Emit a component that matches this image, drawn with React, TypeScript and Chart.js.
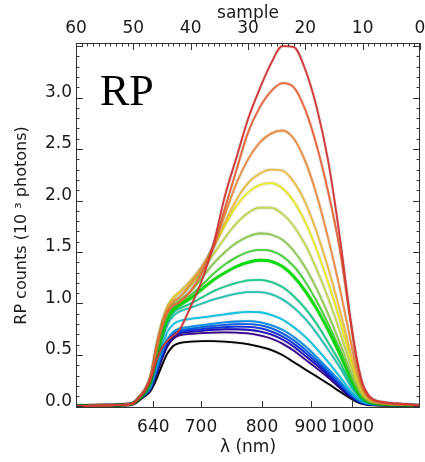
import React, { useEffect, useRef } from "react";
import { Chart, registerables } from "chart.js";

Chart.register(...registerables);

// sample index grid (top axis units)
const SAMPLES = [60, 55, 52, 50, 49, 48, 47, 46, 45, 44, 43, 42, 40, 38, 36, 34, 32, 30, 28, 26, 24, 22, 20, 18, 16, 14, 12, 11, 10, 9, 8, 6, 3, 0];

// spectra, from faintest (black) to brightest (red)
const C0 = [0.005, 0.01, 0.015, 0.025, 0.06, 0.10, 0.15, 0.26, 0.40, 0.52, 0.59, 0.615, 0.63, 0.635, 0.635, 0.63, 0.62, 0.605, 0.58, 0.55, 0.50, 0.43, 0.36, 0.29, 0.22, 0.145, 0.075, 0.045, 0.025, 0.016, 0.012, 0.01, 0.008, 0.005];
const C1 = [0.005, 0.01, 0.015, 0.027, 0.06, 0.105, 0.16, 0.30, 0.46, 0.59, 0.66, 0.69, 0.705, 0.713, 0.718, 0.72, 0.718, 0.71, 0.69, 0.66, 0.61, 0.54, 0.455, 0.37, 0.28, 0.18, 0.085, 0.05, 0.028, 0.018, 0.014, 0.011, 0.009, 0.006];
const C2 = [0.005, 0.01, 0.015, 0.027, 0.065, 0.11, 0.17, 0.32, 0.48, 0.61, 0.68, 0.71, 0.725, 0.735, 0.745, 0.75, 0.75, 0.745, 0.73, 0.70, 0.65, 0.58, 0.49, 0.40, 0.30, 0.195, 0.095, 0.055, 0.03, 0.02, 0.015, 0.012, 0.009, 0.006];
const C3 = [0.005, 0.01, 0.015, 0.028, 0.065, 0.11, 0.17, 0.33, 0.49, 0.62, 0.69, 0.72, 0.74, 0.752, 0.763, 0.77, 0.775, 0.772, 0.76, 0.73, 0.68, 0.61, 0.52, 0.425, 0.32, 0.21, 0.10, 0.06, 0.033, 0.021, 0.016, 0.012, 0.009, 0.006];
const C4 = [0.005, 0.01, 0.015, 0.028, 0.065, 0.115, 0.175, 0.34, 0.51, 0.64, 0.705, 0.735, 0.755, 0.77, 0.783, 0.793, 0.80, 0.80, 0.79, 0.76, 0.71, 0.64, 0.55, 0.45, 0.34, 0.225, 0.11, 0.065, 0.036, 0.022, 0.017, 0.013, 0.01, 0.006];
const C5 = [0.005, 0.01, 0.015, 0.028, 0.07, 0.115, 0.18, 0.35, 0.53, 0.66, 0.725, 0.755, 0.775, 0.79, 0.805, 0.817, 0.825, 0.828, 0.82, 0.79, 0.745, 0.675, 0.585, 0.48, 0.365, 0.245, 0.12, 0.072, 0.04, 0.024, 0.018, 0.013, 0.01, 0.006];
const C6 = [0.005, 0.01, 0.015, 0.028, 0.07, 0.12, 0.20, 0.39, 0.58, 0.73, 0.80, 0.83, 0.85, 0.865, 0.88, 0.895, 0.91, 0.918, 0.915, 0.89, 0.845, 0.77, 0.675, 0.56, 0.43, 0.29, 0.145, 0.088, 0.048, 0.028, 0.02, 0.014, 0.01, 0.006];
const C7 = [0.005, 0.01, 0.015, 0.03, 0.07, 0.125, 0.22, 0.43, 0.64, 0.80, 0.88, 0.92, 0.96, 1.0, 1.04, 1.07, 1.095, 1.11, 1.11, 1.09, 1.04, 0.96, 0.85, 0.71, 0.55, 0.38, 0.19, 0.115, 0.062, 0.035, 0.024, 0.016, 0.011, 0.007];
const C8 = [0.005, 0.01, 0.015, 0.03, 0.075, 0.13, 0.23, 0.45, 0.67, 0.83, 0.91, 0.95, 1.0, 1.06, 1.12, 1.165, 1.20, 1.225, 1.23, 1.21, 1.16, 1.07, 0.95, 0.80, 0.62, 0.43, 0.215, 0.13, 0.07, 0.039, 0.026, 0.017, 0.012, 0.007];
const C9 = [0.005, 0.01, 0.015, 0.03, 0.075, 0.135, 0.24, 0.47, 0.70, 0.86, 0.94, 0.98, 1.05, 1.14, 1.23, 1.30, 1.36, 1.40, 1.42, 1.41, 1.36, 1.26, 1.12, 0.945, 0.74, 0.51, 0.26, 0.155, 0.083, 0.045, 0.03, 0.019, 0.013, 0.008];
const C10 = [0.005, 0.01, 0.015, 0.03, 0.08, 0.14, 0.25, 0.49, 0.73, 0.88, 0.96, 1.00, 1.08, 1.18, 1.29, 1.38, 1.45, 1.50, 1.52, 1.51, 1.46, 1.36, 1.21, 1.02, 0.80, 0.555, 0.285, 0.17, 0.09, 0.049, 0.032, 0.02, 0.013, 0.008];
const C11 = [0.005, 0.01, 0.015, 0.03, 0.08, 0.145, 0.26, 0.51, 0.75, 0.91, 0.99, 1.03, 1.12, 1.25, 1.39, 1.50, 1.59, 1.65, 1.68, 1.67, 1.62, 1.51, 1.35, 1.14, 0.895, 0.62, 0.32, 0.19, 0.10, 0.054, 0.034, 0.021, 0.014, 0.008];
const C12 = [0.005, 0.01, 0.015, 0.03, 0.085, 0.15, 0.27, 0.54, 0.78, 0.94, 1.02, 1.06, 1.17, 1.31, 1.48, 1.64, 1.78, 1.88, 1.93, 1.93, 1.87, 1.75, 1.57, 1.33, 1.05, 0.73, 0.38, 0.225, 0.115, 0.06, 0.037, 0.023, 0.015, 0.009];
const C13 = [0.005, 0.01, 0.015, 0.03, 0.09, 0.16, 0.29, 0.58, 0.82, 0.98, 1.06, 1.11, 1.22, 1.36, 1.55, 1.76, 1.95, 2.08, 2.15, 2.17, 2.12, 1.99, 1.79, 1.52, 1.20, 0.84, 0.44, 0.26, 0.13, 0.068, 0.041, 0.025, 0.016, 0.009];
const C14 = [0.005, 0.01, 0.015, 0.03, 0.09, 0.16, 0.29, 0.58, 0.81, 0.97, 1.05, 1.10, 1.22, 1.36, 1.55, 1.79, 2.01, 2.17, 2.26, 2.30, 2.29, 2.18, 1.98, 1.69, 1.34, 0.94, 0.50, 0.29, 0.145, 0.075, 0.045, 0.027, 0.017, 0.01];
const C15 = [0.005, 0.01, 0.015, 0.03, 0.09, 0.16, 0.29, 0.57, 0.80, 0.95, 1.02, 1.06, 1.19, 1.35, 1.57, 1.87, 2.17, 2.40, 2.56, 2.65, 2.68, 2.60, 2.38, 2.05, 1.63, 1.15, 0.61, 0.35, 0.17, 0.085, 0.05, 0.03, 0.018, 0.01];
const C16 = [0.005, 0.01, 0.015, 0.03, 0.09, 0.16, 0.29, 0.56, 0.78, 0.92, 0.98, 1.01, 1.12, 1.30, 1.55, 1.93, 2.30, 2.66, 2.90, 3.06, 3.14, 3.10, 2.88, 2.53, 2.08, 1.53, 0.78, 0.43, 0.20, 0.095, 0.055, 0.033, 0.02, 0.011];
const C17 = [0.005, 0.01, 0.015, 0.03, 0.085, 0.15, 0.26, 0.44, 0.57, 0.64, 0.69, 0.74, 0.97, 1.23, 1.58, 2.05, 2.42, 2.79, 3.08, 3.33, 3.50, 3.49, 3.27, 2.90, 2.38, 1.65, 0.80, 0.46, 0.22, 0.11, 0.065, 0.04, 0.025, 0.012];

const SERIES = [C0, C1, C2, C3, C4, C5, C6, C7, C8, C9, C10, C11, C12, C13, C14, C15, C16, C17];
const COLORS = [
  "#000000", "#3a0090", "#2010c0", "#1030e0", "#0060f0", "#0090f0",
  "#00c8e8", "#20c8b8", "#10d088", "#00e000", "#40d830", "#90d050",
  "#c8dc50", "#f0f020", "#f0c040", "#f09040", "#f06838", "#d83838",
];
const WIDTHS = [1.8, 1.8, 1.8, 1.8, 1.8, 1.8, 1.8, 1.8, 1.8, 2.8, 1.8, 1.8, 1.8, 1.8, 1.8, 1.8, 1.8, 1.8];

// axis ticks
const LAMBDA_TICKS = [640, 700, 800, 900, 1000];
const LAMBDA_SAMPLE = [46.52, 38.2, 27.56, 19.06, 11.8];
const SAMPLE_TICKS = [60, 50, 40, 30, 20, 10, 0];
const Y_TICKS = [0, 0.5, 1.0, 1.5, 2.0, 2.5, 3.0];
const Y_MIN = -0.015;
const Y_MAX = 3.53;
const X_TITLE = "λ (nm)";
const X2_TITLE = "sample";
const Y_TITLE = "RP counts (10 ³ photons)";
const PANEL_LABEL = "RP";

const FONT = "DejaVu Sans";
const TEXT = "#1a1a1a";

const outlinePlugin = {
  id: "outline",
  beforeDatasetDraw(chart: any) {
    const ctx = chart.ctx;
    ctx.save();
    ctx.shadowColor = "rgba(0,0,0,0.35)";
    ctx.shadowBlur = 1.5;
  },
  afterDatasetDraw(chart: any) {
    chart.ctx.restore();
  },
};

const framePlugin = {
  id: "frame",
  afterDraw(chart: any) {
    const { ctx, chartArea } = chart;
    const { left, right, top, bottom } = chartArea;
    const x2 = chart.scales.x2;
    const xs = chart.scales.x;
    const ys = chart.scales.y;
    ctx.save();
    ctx.strokeStyle = "#333";
    ctx.lineWidth = 1;
    ctx.strokeRect(left + 0.5, top + 0.5, right - left - 1, bottom - top - 1);
    ctx.beginPath();
    for (let s = 0; s <= 60; s++) {
      const px = Math.round(x2.getPixelForValue(s)) + 0.5;
      const len = s % 10 === 0 ? 7 : 3.5;
      ctx.moveTo(px, top);
      ctx.lineTo(px, top + len);
    }
    for (const s of LAMBDA_SAMPLE) {
      const px = Math.round(xs.getPixelForValue(s)) + 0.5;
      ctx.moveTo(px, bottom);
      ctx.lineTo(px, bottom - 7);
    }
    for (let i = 0; i <= 35; i++) {
      const v = i / 10;
      if (v > Y_MAX) break;
      const py = Math.round(ys.getPixelForValue(v)) + 0.5;
      const len = i % 5 === 0 ? 7 : 3.5;
      ctx.moveTo(left, py);
      ctx.lineTo(left + len, py);
      ctx.moveTo(right, py);
      ctx.lineTo(right - len, py);
    }
    ctx.stroke();
    ctx.fillStyle = "#000";
    ctx.font = '44px "Liberation Serif"';
    ctx.textBaseline = "alphabetic";
    ctx.textAlign = "left";
    ctx.fillText(PANEL_LABEL, left + 24, top + 62);
    ctx.restore();
  },
};

export default function App() {
  const ref = useRef<HTMLCanvasElement | null>(null);
  useEffect(() => {
    if (!ref.current) return;
    const datasets = SERIES.map((vals, i) => ({
      data: vals.map((v, j) => ({ x: SAMPLES[j], y: v })),
      borderColor: COLORS[i],
      borderWidth: WIDTHS[i],
      pointRadius: 0,
      fill: false,
      cubicInterpolationMode: "monotone" as const,
      xAxisID: "x",
      yAxisID: "y",
      order: -i,
    }));
    const chart = new Chart(ref.current, {
      type: "line",
      data: { datasets },
      plugins: [outlinePlugin, framePlugin],
      options: {
        animation: false,
        responsive: false,
        devicePixelRatio: 1,
        parsing: false,
        layout: { padding: { left: 0, right: 5, top: 0, bottom: 0 } },
        plugins: { legend: { display: false }, tooltip: { enabled: false } },
        scales: {
          x: {
            type: "linear",
            position: "bottom",
            min: 0,
            max: 60,
            reverse: true,
            afterBuildTicks: (s: any) => {
              s.ticks = LAMBDA_SAMPLE.map((v) => ({ value: v }));
            },
            ticks: {
              callback: (_v: any, i: number) => String(LAMBDA_TICKS[i]),
              padding: 9,
              maxRotation: 0,
              autoSkip: false,
              font: { family: FONT, size: 17 },
              color: TEXT,
            },
            grid: { display: false, drawTicks: false },
            border: { display: false },
            title: {
              display: true,
              text: X_TITLE,
              font: { family: FONT, size: 17 },
              color: TEXT,
              padding: { top: 0, bottom: 4 },
            },
            afterFit: (s: any) => {
              s.height = 54;
              s.paddingLeft = 0;
              s.paddingRight = 0;
            },
          },
          x2: {
            type: "linear",
            axis: "x",
            position: "top",
            min: 0,
            max: 60,
            reverse: true,
            afterBuildTicks: (s: any) => {
              s.ticks = SAMPLE_TICKS.map((v) => ({ value: v }));
            },
            ticks: {
              callback: (v: any) => String(v),
              padding: 4,
              maxRotation: 0,
              autoSkip: false,
              font: { family: FONT, size: 17 },
              color: TEXT,
            },
            grid: { display: false, drawTicks: false },
            border: { display: false },
            title: {
              display: true,
              text: X2_TITLE,
              font: { family: FONT, size: 17 },
              color: TEXT,
              padding: { top: 3, bottom: 0 },
            },
            afterFit: (s: any) => {
              s.height = 43;
              s.paddingLeft = 0;
              s.paddingRight = 0;
            },
          },
          y: {
            type: "linear",
            position: "left",
            min: Y_MIN,
            max: Y_MAX,
            afterBuildTicks: (s: any) => {
              s.ticks = Y_TICKS.map((v) => ({ value: v }));
            },
            ticks: {
              callback: (v: any) => Number(v).toFixed(1),
              padding: 4,
              labelOffset: -5,
              autoSkip: false,
              font: { family: FONT, size: 17 },
              color: TEXT,
            },
            grid: { display: false, drawTicks: false },
            border: { display: false },
            title: {
              display: true,
              text: Y_TITLE,
              font: { family: FONT, size: 16 },
              color: TEXT,
              padding: { top: 12, bottom: 0 },
            },
            afterFit: (s: any) => {
              s.width = 76;
              s.paddingTop = 0;
              s.paddingBottom = 0;
            },
          },
        },
      },
    } as any);
    return () => chart.destroy();
  }, []);
  return (
    <div style={{ position: "absolute", left: 0, top: 0, width: 425, height: 462 }}>
      <canvas ref={ref} width={425} height={462} style={{ display: "block" }} />
    </div>
  );
}
